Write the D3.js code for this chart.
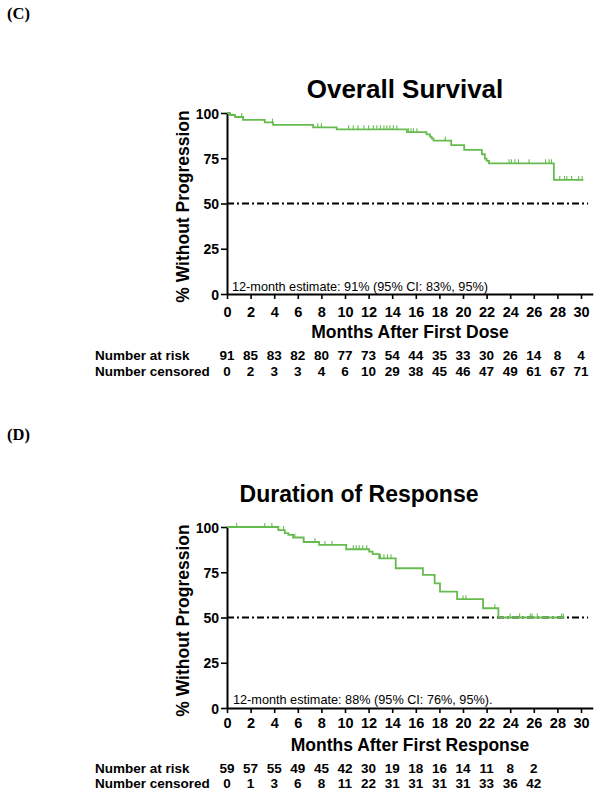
<!DOCTYPE html>
<html>
<head>
<meta charset="utf-8">
<script src="https://cdn.jsdelivr.net/npm/d3@7"></script>
<style>
  body { margin: 0; background: #fff; }
  svg { display: block; }
  text { font-family: Arial, "Liberation Sans", sans-serif; fill: #000; }
</style>
</head>
<body>
<svg id="chart" width="604" height="797"></svg>
<script>
// ---------- DATA ----------
const xTickMonths = [0,2,4,6,8,10,12,14,16,18,20,22,24,26,28,30];
const yTickValues = [0,25,50,75,100];

// Panel C: Overall Survival (step points: time in months, survival %)
const osTimes = [0, 0.25, 0.68, 1.36, 3.2, 3.9, 7.3, 9.3, 15.25, 16.9, 17.2, 17.35, 17.5, 19.0, 20.1, 21.6, 21.85, 22.0, 22.2, 27.7];
const osSurv  = [100, 98.9, 97.8, 96.2, 94.8, 93.4, 92.1, 91.0, 89.4, 88.2, 87.0, 85.8, 84.7, 82.3, 79.6, 77.2, 74.8, 73.5, 72.2, 63.0];
const osEnd = 30.2;
const osCensor = [1.25, 3.85, 7.7, 8.0, 10.3, 10.7, 11.1, 11.6, 12.0, 12.4, 12.7, 13.0, 13.3, 13.55, 13.8, 14.1, 14.4,
                  15.4, 15.6, 15.8, 16.1, 18.5, 23.9, 24.1, 24.4, 24.7, 25.6, 27.0, 27.3, 27.5, 28.2, 28.6, 28.8, 29.2, 29.8, 30.1];
const osRiskMonths = [0,2,4,6,8,10,12,14,16,18,20,22,24,26,28,30];
const osAtRisk   = [91,85,83,82,80,77,73,54,44,35,33,30,26,14,8,4];
const osCensored = [0,2,3,3,4,6,10,29,38,45,46,47,49,61,67,71];

// Panel D: Duration of Response
const dorTimes = [0, 4.35, 4.9, 5.2, 5.6, 6.5, 7.8, 10.1, 12.05, 12.35, 12.9, 14.3, 16.6, 17.6, 18.05, 19.5, 21.7, 23.0];
const dorSurv  = [100, 98.3, 96.6, 95.6, 94.2, 91.7, 90.1, 87.7, 86.4, 85.0, 82.7, 77.2, 73.5, 68.9, 64.3, 60.1, 55.1, 50.0];
const dorEnd = 28.6;
const dorCensor = [0.82, 3.2, 3.8, 4.8, 5.75, 7.45, 8.3, 8.9, 10.7, 10.95, 11.2, 11.5, 11.85, 13.0, 13.3, 13.6, 13.9,
                   20.0, 20.25, 22.7, 24.0, 24.8, 25.7, 25.85, 26.3, 28.35, 28.5];
const dorRiskMonths = [0,2,4,6,8,10,12,14,16,18,20,22,24,26];
const dorAtRisk   = [59,57,55,49,45,42,30,19,18,16,14,11,8,2];
const dorCensored = [0,1,3,6,8,11,22,31,31,31,31,33,36,42];

// ---------- DRAWING ----------
const svg = d3.select("#chart");
const GREEN = "#66bb4f";
const x = d3.scaleLinear().domain([0, 31]).range([227, 227 + 31 * 11.8]);

function survAt(times, surv, t) {
  const i = d3.bisectRight(times, t) - 1;
  return surv[Math.max(0, i)];
}

function drawPanel(p) {
  const y = d3.scaleLinear().domain([0, 100]).range([p.y0, p.y100]);
  const g = svg.append("g");

  // panel letter
  g.append("text").attr("x", 7).attr("y", p.letterY)
    .style("font-family", "'Liberation Serif', 'Times New Roman', serif")
    .style("font-weight", "bold").style("font-size", "16.5px").text(p.letter);

  // title
  g.append("text").attr("x", p.titleX).attr("y", p.titleY).attr("text-anchor", "middle")
    .style("font-weight", "bold").style("font-size", p.titleSize).text(p.title);

  // reference line at 50%
  g.append("line").attr("x1", x(0)).attr("x2", x(30.6)).attr("y1", y(50)).attr("y2", y(50))
    .attr("stroke", "#000").attr("stroke-width", 2).attr("stroke-dasharray", "7,3,2,3");

  // axes
  const xa = g.append("g").attr("transform", `translate(0,${p.y0})`)
    .call(d3.axisBottom(x).tickValues(xTickMonths).tickSize(5).tickSizeOuter(0));
  xa.selectAll("text").attr("y", p.xLabelOff).attr("dy", null)
    .style("font-weight", "bold").style("font-size", "14.5px").style("font-family", "Arial, 'Liberation Sans', sans-serif");
  const ya = g.append("g").attr("transform", `translate(${x(0)},0)`)
    .call(d3.axisLeft(y).tickValues(yTickValues).tickSize(6).tickSizeOuter(0));
  ya.selectAll("text").attr("x", -8).attr("dy", "0.36em")
    .style("font-weight", "bold").style("font-size", "14px").style("font-family", "Arial, 'Liberation Sans', sans-serif");
  [xa, ya].forEach(a => {
    a.select(".domain").attr("stroke-width", 2);
    a.selectAll(".tick line").attr("stroke-width", 1.6);
  });

  // axis titles
  g.append("text").attr("x", 410).attr("y", p.xTitleY).attr("text-anchor", "middle")
    .style("font-weight", "bold").style("font-size", "17.5px").text(p.xTitle);
  g.append("text").attr("transform", `translate(189,${(p.y0 + p.y100) / 2 + 3}) rotate(-90)`)
    .attr("text-anchor", "middle")
    .style("font-weight", "bold").style("font-size", "17.5px").text("% Without Progression");

  // KM step curve
  const pts = p.times.map((t, i) => [t, p.surv[i]]);
  pts.push([p.end, p.surv[p.surv.length - 1]]);
  const line = d3.line().x(d => x(d[0])).y(d => y(d[1])).curve(d3.curveStepAfter);
  g.append("path").datum(pts).attr("d", line).attr("fill", "none")
    .attr("stroke", GREEN).attr("stroke-width", 1.8);

  // censor ticks
  g.selectAll(".cens").data(p.censor).enter().append("line")
    .attr("x1", d => x(d)).attr("x2", d => x(d))
    .attr("y1", d => y(survAt(p.times, p.surv, d)) - 4)
    .attr("y2", d => y(survAt(p.times, p.surv, d)))
    .attr("stroke", GREEN).attr("stroke-width", 1.1);

  // estimate annotation
  g.append("text").attr("x", p.noteX).attr("y", p.noteY)
    .style("font-size", "12.7px").text(p.note);

  // risk table
  g.append("text").attr("x", 95).attr("y", p.riskY).style("font-weight", "bold").style("font-size", "13.5px").text("Number at risk");
  g.append("text").attr("x", 95).attr("y", p.censY).style("font-weight", "bold").style("font-size", "13.5px").text("Number censored");
  g.selectAll(".risk").data(p.riskMonths).enter().append("text")
    .attr("x", d => x(d)).attr("y", p.riskY).attr("text-anchor", "middle")
    .style("font-weight", "bold").style("font-size", "13.5px")
    .text((d, i) => p.atRisk[i]);
  g.selectAll(".cen").data(p.riskMonths).enter().append("text")
    .attr("x", d => x(d)).attr("y", p.censY).attr("text-anchor", "middle")
    .style("font-weight", "bold").style("font-size", "13.5px")
    .text((d, i) => p.censored[i]);
}

drawPanel({
  letter: "(C)", letterY: 19, title: "Overall Survival", titleX: 405, titleY: 98, titleSize: "26px",
  y0: 294, y100: 113, xLabelOff: 23, xTitleY: 338, xTitle: "Months After First Dose",
  times: osTimes, surv: osSurv, end: osEnd, censor: osCensor,
  note: "12-month estimate: 91% (95% CI: 83%, 95%)", noteX: 232, noteY: 290.5,
  riskY: 360, censY: 376, riskMonths: osRiskMonths, atRisk: osAtRisk, censored: osCensored
});

drawPanel({
  letter: "(D)", letterY: 440, title: "Duration of Response", titleX: 359, titleY: 502, titleSize: "23px",
  y0: 708, y100: 527, xLabelOff: 20, xTitleY: 751, xTitle: "Months After First Response",
  times: dorTimes, surv: dorSurv, end: dorEnd, censor: dorCensor,
  note: "12-month estimate: 88% (95% CI: 76%, 95%).", noteX: 233, noteY: 704,
  riskY: 773, censY: 788, riskMonths: dorRiskMonths, atRisk: dorAtRisk, censored: dorCensored
});
</script>
</body>
</html>
